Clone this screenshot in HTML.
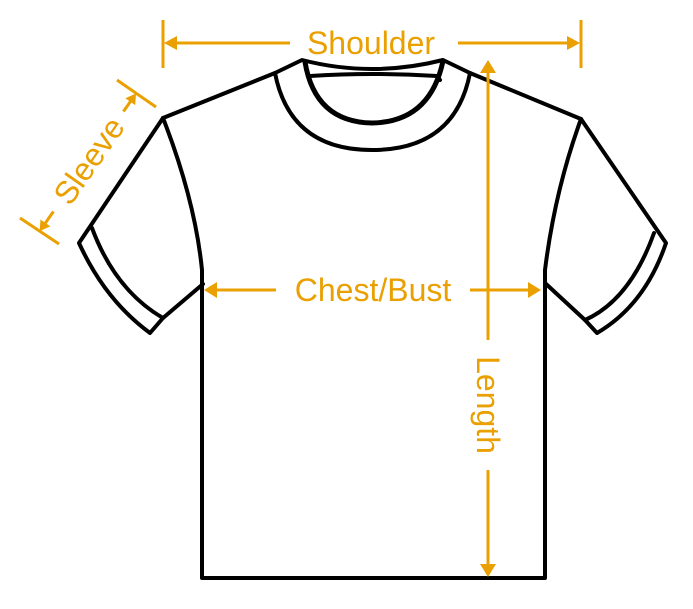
<!DOCTYPE html>
<html><head><style>
html,body{margin:0;padding:0;background:#fff;}
svg{display:block;}
text{font-family:"Liberation Sans",sans-serif;fill:#E9A000;font-size:32px;}
</style></head><body>
<svg width="693" height="609" viewBox="0 0 693 609" xmlns="http://www.w3.org/2000/svg">
<g fill="none" stroke="#000" stroke-width="4" stroke-linejoin="round" stroke-linecap="round">
<path d="M163,118 L275,73 L302,60 Q372,78 443,60 L470,73 L581,119"/>
<path d="M163,118 Q195,200 202,270 L202,578 L545,578 L545,270 Q555,190 581,119"/>
<path d="M163,118 L79,243 Q105,300 150,333 L163,318 L203,284"/>
<path d="M92,228 Q115,290 163,318"/>
<path d="M581,119 L666,243 Q645,305 597,333 L585,320 L545,283"/>
<path d="M654,233 Q630,300 585,320"/>
<path d="M305,62 Q315,122 372,123 Q430,122 443,61" stroke-width="5"/>
<path d="M310,76 Q372,72 437,76 L440,80"/>
<path d="M275,73 Q290,150 372,150 Q455,150 470,73"/>
</g>
<g stroke="#E9A000" stroke-width="3" fill="#E9A000">
<line x1="163" y1="20" x2="163" y2="68"/>
<line x1="581" y1="20" x2="581" y2="68"/>
<line x1="170" y1="43" x2="290" y2="43"/>
<line x1="458" y1="43" x2="572" y2="43"/>
<polygon points="164,43 177,36 177,50" stroke="none"/>
<polygon points="580,43 567,36 567,50" stroke="none"/>
<line x1="488" y1="70" x2="488" y2="340"/>
<line x1="488" y1="470" x2="488" y2="568"/>
<polygon points="488,60 480,73 496,73" stroke="none"/>
<polygon points="488,577 480,564 496,564" stroke="none"/>
<line x1="212" y1="290" x2="276" y2="290"/>
<line x1="470" y1="290" x2="532" y2="290"/>
<polygon points="204,290 217,282 217,298" stroke="none"/>
<polygon points="541,290 528,282 528,298" stroke="none"/>
<line x1="20" y1="218" x2="59" y2="244"/>
<line x1="117" y1="80" x2="156" y2="107"/>
<g transform="translate(98,167) rotate(-55)">
<line x1="-80" y1="-11" x2="-62" y2="-11"/>
<polygon points="-86,-11 -76,-17 -76,-5" stroke="none"/>
<line x1="60" y1="-11" x2="76" y2="-11"/>
<polygon points="82,-11 72,-17 72,-5" stroke="none"/>
</g>
</g>
<text x="371" y="54" text-anchor="middle">Shoulder</text>
<text x="373" y="301" text-anchor="middle">Chest/Bust</text>
<text transform="translate(477,405) rotate(90)" text-anchor="middle">Length</text>
<text transform="translate(98,167) rotate(-55)" text-anchor="middle" x="0" y="0">Sleeve</text>
</svg>
</body></html>
